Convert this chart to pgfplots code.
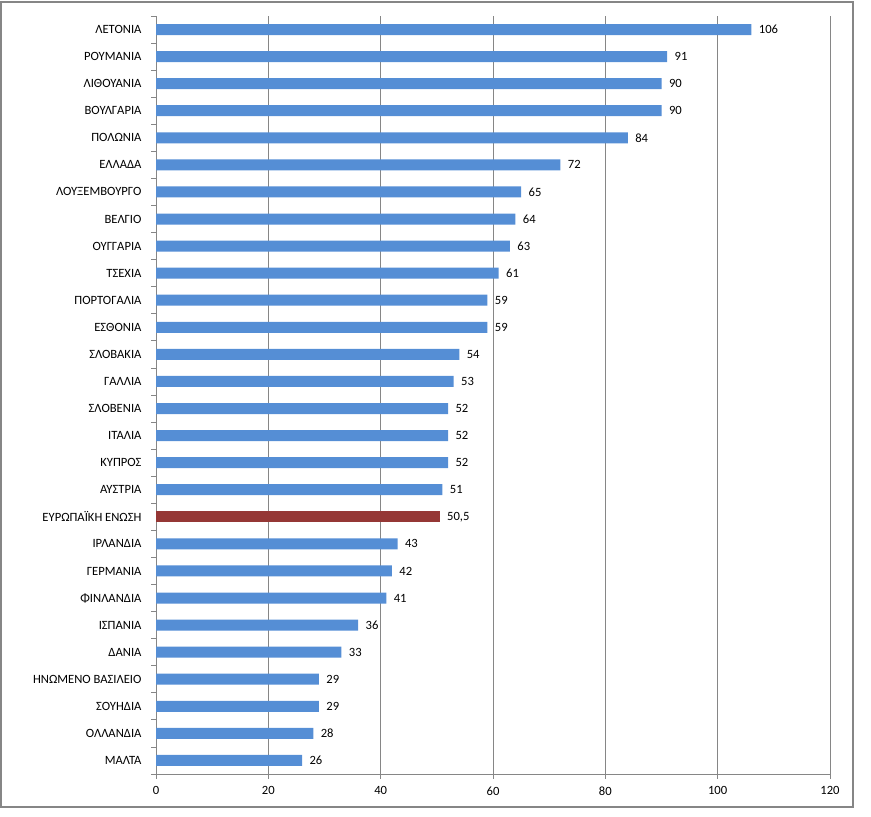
\documentclass[border=0pt]{standalone}
\usepackage{pgfplots}
\pgfplotsset{compat=1.18}
\usepackage{fontspec}
\setmainfont{Carlito}
\definecolor{barblue}{RGB}{85,142,213}
\definecolor{barred}{RGB}{149,55,53}
\definecolor{gridgray}{RGB}{134,134,134}
\begin{document}
\begin{tikzpicture}[x=1bp,y=1bp]
\useasboundingbox (0,0) rectangle (871,817);
\draw[gridgray,line width=1.2bp] (1,10) rectangle (853,815);
\begin{axis}[
  at={(156bp,43bp)}, anchor=south west,
  scale only axis, width=674bp, height=758bp,
  xbar, bar width=11bp, bar shift=0pt,
  xmin=0, xmax=120, ymin=-0.5, ymax=27.5,
  axis x line*=bottom, axis y line*=left,
  axis line style={gridgray, line width=0.8bp},
  xtick={0,20,...,120},
  xmajorgrids, grid style={gridgray, line width=0.8bp},
  ytick={-0.5,0.5,...,27.5},
  yticklabels={},
  major tick length=5bp,
  tick align=outside,
  tick style={draw=gridgray, line width=0.8bp},
  extra y ticks={0,...,27},
  extra y tick labels={ΜΑΛΤΑ,ΟΛΛΑΝΔΙΑ,ΣΟΥΗΔΙΑ,ΗΝΩΜΕΝΟ ΒΑΣΙΛΕΙΟ,ΔΑΝΙΑ,ΙΣΠΑΝΙΑ,ΦΙΝΛΑΝΔΙΑ,ΓΕΡΜΑΝΙΑ,ΙΡΛΑΝΔΙΑ,ΕΥΡΩΠΑΪΚΗ ΕΝΩΣΗ,ΑΥΣΤΡΙΑ,ΚΥΠΡΟΣ,ΙΤΑΛΙΑ,ΣΛΟΒΕΝΙΑ,ΓΑΛΛΙΑ,ΣΛΟΒΑΚΙΑ,ΕΣΘΟΝΙΑ,ΠΟΡΤΟΓΑΛΙΑ,ΤΣΕΧΙΑ,ΟΥΓΓΑΡΙΑ,ΒΕΛΓΙΟ,ΛΟΥΞΕΜΒΟΥΡΓΟ,ΕΛΛΑΔΑ,ΠΟΛΩΝΙΑ,ΒΟΥΛΓΑΡΙΑ,ΛΙΘΟΥΑΝΙΑ,ΡΟΥΜΑΝΙΑ,ΛΕΤΟΝΙΑ},
  extra y tick style={tick style={draw=none}},
  ticklabel style={font=\fontsize{12.6bp}{15bp}\selectfont},
  yticklabel style={xshift=-6bp},
  xticklabel style={yshift=-4bp},
  /pgf/number format/assume math mode=true,
  /pgf/number format/use comma,
  nodes near coords,
  nodes near coords style={font=\fontsize{12.6bp}{15bp}\selectfont, anchor=west, xshift=4bp, black},
]
\addplot[fill=barblue, draw=none] coordinates {
(26,0) (28,1) (29,2) (29,3) (33,4) (36,5) (41,6) (42,7) (43,8)
(51,10) (52,11) (52,12) (52,13) (53,14) (54,15) (59,16) (59,17) (61,18) (63,19)
(64,20) (65,21) (72,22) (84,23) (90,24) (90,25) (91,26) (106,27)};
\addplot[fill=barred, draw=none] coordinates {(50.5,9)};
\end{axis}
\end{tikzpicture}
\end{document}
